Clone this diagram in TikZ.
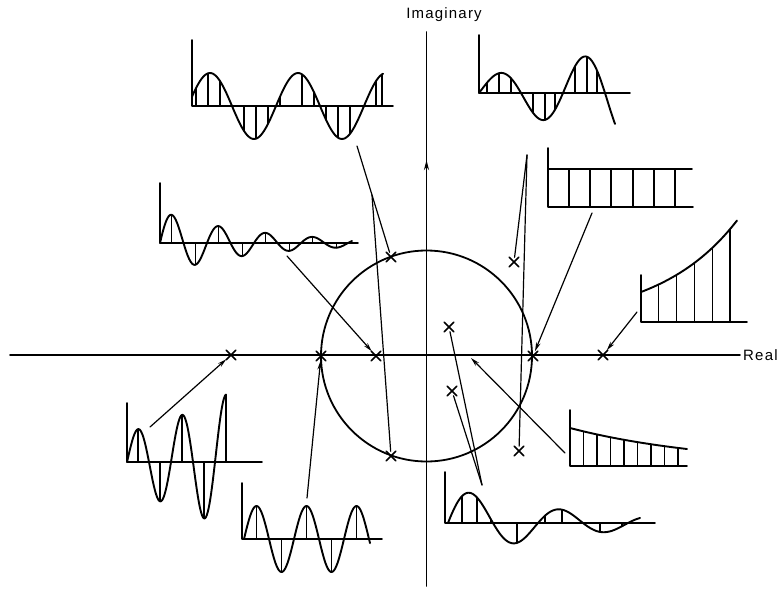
\documentclass[tikz,border=0pt]{standalone}
\usepackage{fontspec}
\newfontfamily\labelfont[LetterSpace=8]{Liberation Sans}
\usetikzlibrary{arrows.meta,shapes.misc}
\begin{document}
\begin{tikzpicture}[x=1pt,y=-1pt,
  line cap=round, line join=round,
  axisline/.style={line width=1.7pt},
  wave/.style={line width=1.9pt},
  samp/.style={line width=1.3pt},
  frame/.style={line width=1.6pt},
  leader/.style={line width=1.2pt},
  arrowlead/.style={leader,-{Stealth[length=9pt,width=4.5pt]}},
  pole/.style={draw, cross out, minimum size=8pt, inner sep=0pt, line width=1.5pt},
  lbl/.style={font=\labelfont\fontsize{15}{17}\selectfont, inner sep=0pt}]
\useasboundingbox (0,0) rectangle (784,589);

% axes and circle
\coordinate (rL) at (10,355);
\coordinate (rR) at (740,355);
\coordinate (iT) at (426.5,32);
\coordinate (iB) at (426.5,586);
\draw[axisline] (rL) -- (rR);
\draw[axisline] (iB) -- (iT);
\draw[axisline,-{Stealth[length=10pt,width=5pt]}] (426.5,176) -- (426.5,160);
\node[lbl] (imlab) at (444,15) {Imaginary};
\node[lbl, anchor=west] (relab) at (743,355) {Real};
\draw[line width=1.8pt] (426.5,356) circle[radius=105.5];

% poles
\node[pole] (pA1) at (391,257) {};
\node[pole] (pA2) at (391,456) {};
\node[pole] (pB1) at (514,262) {};
\node[pole] (pB2) at (519,451) {};
\node[pole] (pC) at (376,356) {};
\node[pole] (pD) at (533,356) {};
\node[pole] (pE) at (603,355) {};
\node[pole] (pG) at (231,355) {};
\node[pole] (pH) at (321,356) {};
\node[pole] (pI1) at (449,327) {};
\node[pole] (pI2) at (452,391) {};
\coordinate (pF) at (471,358);

% A: constant oscillation (top left)
\begin{scope}[shift={(192,106)}, declare function={fA(\t)=-33*sin(4.0909*(\t+4));}]
  \draw[frame] (0,-66) -- (0,0) -- (201,0);
  \draw[wave] plot[domain=0:191, samples=120, smooth] (\x,{fA(\x)});
  \foreach \s in {4,16,28,52,64,76,88,110,122,134,146,158,172,184,190}
    \draw[samp] (\s,0) -- (\s,{fA(\s)});
\end{scope}
\coordinate (sA1) at (357,146);
\coordinate (sA2) at (372,195);

% B: growing oscillation (top right)
\begin{scope}[shift={(479,93)}, declare function={fB(\t)=-17.2*exp(0.00714*\t)*sin(4.2857*\t);}]
  \draw[frame] (0,-58) -- (0,0) -- (151,0);
  \draw[wave] plot[domain=0:136, samples=120, smooth] (\x,{fB(\x)});
  \foreach \s in {8,20,32,54,66,76,96,108,118}
    \draw[samp] (\s,0) -- (\s,{fB(\s)});
  \coordinate (sB) at (48,62);
\end{scope}

% C: damped alternating oscillation (middle left)
\begin{scope}[shift={(160,243)}, declare function={fC(\t)=-32*exp(-0.0109*\t)*sin(7.6596*\t);}]
  \draw[frame] (0,-60) -- (0,0) -- (198,0);
  \draw[wave] plot[domain=0:192, samples=160, smooth] (\x,{fC(\x)});
  \foreach \k in {0,...,7}
    \draw[samp] ({11.75+23.5*\k},0) -- ({11.75+23.5*\k},{fC(11.75+23.5*\k)});
  \coordinate (sC) at (127,13);
\end{scope}

% D: constant (upper right)
\begin{scope}[shift={(548,207)}]
  \draw[frame] (0,-59) -- (0,0) -- (145,0);
  \draw[frame] (0,-38) -- (144,-38);
  \foreach \s in {21,42,63,85,106,127}
    \draw[samp] (\s,0) -- (\s,-38);
  \coordinate (sD) at (44,6);
\end{scope}

% E: growing exponential (right)
\begin{scope}[shift={(641,322)}, declare function={fE(\t)=-30*exp(0.0127*\t);}]
  \draw[frame] (0,-47) -- (0,0) -- (106,0);
  \draw[wave] plot[domain=0:96, samples=60, smooth] (\x,{fE(\x)});
  \foreach \k in {1,...,5}
    \draw[samp] ({17.8*\k},0) -- ({17.8*\k},{fE(17.8*\k)});
  \coordinate (sE) at (-4,-10);
\end{scope}

% F: decaying exponential (lower right)
\begin{scope}[shift={(570,466)}, declare function={fF(\t)=-38*exp(-0.00688*\t);}]
  \draw[frame] (0,-56) -- (0,0) -- (117,0);
  \draw[wave] plot[domain=0:117, samples=60, smooth] (\x,{fF(\x)});
  \foreach \k in {1,...,8}
    \draw[samp] ({13.5*\k},0) -- ({13.5*\k},{fF(13.5*\k)});
  \coordinate (sF) at (-5,-13);
\end{scope}

% G: growing alternating oscillation (lower left)
\begin{scope}[shift={(127,462)}, declare function={fG(\t)=-30*exp(0.0082*\t)*sin(8.1818*\t);}]
  \draw[frame] (0,-59) -- (0,0) -- (135,0);
  \draw[wave] plot[domain=0:99, samples=120, smooth] (\x,{fG(\x)});
  \foreach \k in {0,...,4}
    \draw[samp] ({11+22*\k},0) -- ({11+22*\k},{fG(11+22*\k)});
  \coordinate (sG) at (23,-35);
\end{scope}

% H: constant alternating oscillation (bottom middle)
\begin{scope}[shift={(242,539)}, declare function={fH(\t)=-33*sin(7.2*(\t-2));}]
  \draw[frame] (0,-56) -- (0,0) -- (140,0);
  \draw[wave] plot[domain=2:128, samples=120, smooth] (\x,{fH(\x)});
  \foreach \k in {0,...,4}
    \draw[samp] ({14.5+25*\k},0) -- ({14.5+25*\k},{fH(14.5+25*\k)});
  \coordinate (sH) at (65,-41);
\end{scope}

% I: damped oscillation (bottom right)
\begin{scope}[shift={(445,523)}, declare function={fI(\t)=-36.6*exp(-0.0088*(\t-3))*sin(4*(\t-3));}]
  \draw[frame] (0,-51) -- (0,0) -- (210,0);
  \draw[wave] plot[domain=3:195, samples=140, smooth] (\x,{fI(\x)});
  \foreach \s in {17,32,46,72,100,117,140,155,177}
    \draw[samp] (\s,0) -- (\s,{fI(\s)});
  \coordinate (sI) at (37,-38);
\end{scope}

% leaders
\draw[leader] (sA1) -- (pA1);
\draw[leader] (sA2) -- (pA2);
\draw[leader] (sB) -- (pB1);
\draw[leader] (sB) -- (pB2);
\draw[arrowlead] (sC) -- (pC);
\draw[arrowlead] (sD) -- (pD);
\draw[arrowlead] (sE) -- (pE);
\draw[arrowlead] (sF) -- (pF);
\draw[arrowlead] (sG) -- (pG);
\draw[arrowlead] (sH) -- (pH);
\draw[leader] (sI) -- (pI1);
\draw[leader] (sI) -- (pI2);
\end{tikzpicture}
\end{document}
